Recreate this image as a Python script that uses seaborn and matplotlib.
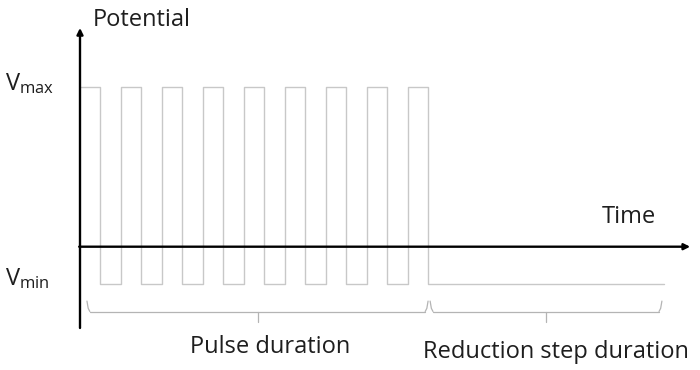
import matplotlib
matplotlib.use("Agg")
import matplotlib.pyplot as plt
import seaborn as sns
import pandas as pd

# ---- data ----
V_MAX = 1.0
V_MIN = -0.235
edge_times = [0.0, 0.5, 1.0, 1.5, 2.0, 2.5, 3.0, 3.5, 4.0, 4.5,
              5.0, 5.5, 6.0, 6.5, 7.0, 7.5, 8.0, 8.5, 14.25]
edge_levels = [V_MAX, V_MIN, V_MAX, V_MIN, V_MAX, V_MIN, V_MAX, V_MIN, V_MAX, V_MIN,
               V_MAX, V_MIN, V_MAX, V_MIN, V_MAX, V_MIN, V_MAX, V_MIN, V_MIN]
brace_labels = ["Pulse duration", "Reduction step duration"]
brace_starts = [0.17, 8.55]
brace_ends = [8.5, 14.21]
brace_mids = [4.35, 11.37]
axis_labels = ["Potential", "Time"]
level_labels = [r"V$_{\mathrm{max}}$", r"V$_{\mathrm{min}}$"]

sns.set_theme(style="white")
plt.rcParams["font.family"] = ["Open Sans", "DejaVu Sans"]
plt.rcParams["mathtext.fontset"] = "custom"
plt.rcParams["mathtext.rm"] = "Open Sans"
plt.rcParams["mathtext.it"] = "Open Sans"

fig = plt.figure(figsize=(7, 3.7), dpi=100)
ax = fig.add_axes([0, 0, 1, 1])
ax.set_xlim(-80 / 40.95, 620 / 40.95)
ax.set_ylim(-123.3 / 160, 246.7 / 160)
ax.axis("off")

df = pd.DataFrame({"t": edge_times, "v": edge_levels})
sns.lineplot(data=df, x="t", y="v", drawstyle="steps-post", estimator=None,
             sort=False, color="#c8c8c8", linewidth=1.0, ax=ax)

# axes arrows
arrow_kw = dict(arrowstyle="-|>", mutation_scale=9, lw=1.7, color="black",
                shrinkA=0, shrinkB=0)
ax.annotate("", xy=(0, 1.367), xytext=(0, -0.508), arrowprops=arrow_kw)
ax.annotate("", xy=(14.9, 0), xytext=(-0.02, 0), arrowprops=arrow_kw)

# braces
y_bot, y_top, y_tip = -0.405, -0.34, -0.47
for x0, x1, xm in zip(brace_starts, brace_ends, brace_mids):
    ax.plot([x0, x0 + 0.03, x0 + 0.07], [y_top, y_bot + 0.02, y_bot],
            color="#b4b4b4", lw=0.9)
    ax.plot([x0 + 0.07, x1 - 0.07], [y_bot, y_bot], color="#b4b4b4", lw=0.9)
    ax.plot([x1 - 0.07, x1 - 0.03, x1], [y_bot, y_bot + 0.02, y_top],
            color="#b4b4b4", lw=0.9)
    ax.plot([xm, xm], [y_bot, y_tip], color="#b4b4b4", lw=0.9)

txt = dict(color="#1e1e1e", fontsize=17)
ax.text(0.3, 1.417, axis_labels[0], ha="left", va="center", **txt)
ax.text(13.4, 0.186, axis_labels[1], ha="center", va="center", **txt)
ax.text(4.64, -0.627, brace_labels[0], ha="center", va="center", **txt)
ax.text(11.62, -0.658, brace_labels[1], ha="center", va="center", **txt)
ax.text(-1.84, 1.017, level_labels[0], ha="left", va="center", **txt)
ax.text(-1.84, -0.20, level_labels[1], ha="left", va="center", **txt)

fig.savefig("out.png", dpi=100)
